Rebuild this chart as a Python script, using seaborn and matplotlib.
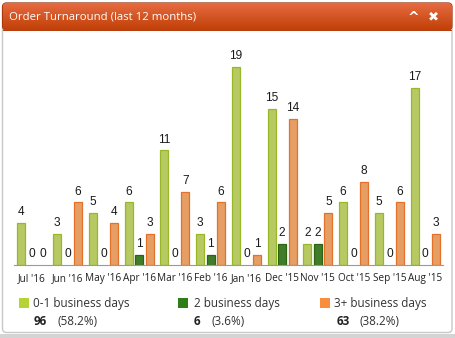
import numpy as np
import pandas as pd
import matplotlib
matplotlib.use("Agg")
import matplotlib.pyplot as plt
from matplotlib.patches import FancyBboxPatch, Rectangle
import seaborn as sns

# ---- data -------------------------------------------------------------
months = ["Jul '16", "Jun '16", "May '16", "Apr '16", "Mar '16", "Feb '16",
          "Jan '16", "Dec '15", "Nov '15", "Oct '15", "Sep '15", "Aug '15"]
series = ["0-1 business days", "2 business days", "3+ business days"]
fast = [4, 3, 5, 6, 11, 3, 19, 15, 2, 6, 5, 17]
two_day = [0, 0, 0, 1, 0, 1, 0, 2, 2, 0, 0, 0]
slow = [0, 6, 4, 3, 7, 6, 1, 14, 5, 8, 6, 3]
title = "Order Turnaround (last 12 months)"

fills = ["#c2da52", "#3b8a1c", "#fc9c4e"]
edges = ["#98b828", "#2a6612", "#e2712a"]
swatches = ["#b5d334", "#2e7d16", "#f98c3d"]

df = pd.DataFrame({
    "month": months * 3,
    "series": sum([[s] * len(months) for s in series], []),
    "count": fast + two_day + slow,
})

sns.set_style("white")
plt.rcParams["font.family"] = ["Open Sans", "DejaVu Sans"]

W, H = 455, 338
fig = plt.figure(figsize=(W / 100, H / 100), dpi=100)

# ---- panel chrome (pixel coordinates) ---------------------------------
bg = fig.add_axes([0, 0, 1, 1])
bg.set_xlim(0, W)
bg.set_ylim(H, 0)
bg.axis("off")

bg.add_patch(Rectangle((0, 334), W, 4, facecolor="#d4d4d4", edgecolor="none"))
panel = FancyBboxPatch((2.5, 3), 449.5, 329.5, boxstyle="round,pad=0,rounding_size=4",
                       facecolor="white", edgecolor="#c8c8c8", linewidth=1)
bg.add_patch(panel)

# title bar with vertical gradient, clipped to a rounded box
bar_box = FancyBboxPatch((2.5, 3), 449.5, 27, boxstyle="round,pad=0,rounding_size=4",
                         facecolor="none", edgecolor="#a8380c", linewidth=0.8)
bg.add_patch(bar_box)
grad = np.linspace(0, 1, 64).reshape(-1, 1)
top_c = np.array([0.90, 0.42, 0.25])
bot_c = np.array([0.76, 0.25, 0.03])
img = top_c + (bot_c - top_c) * grad[..., None]
im = bg.imshow(img, extent=(2.5, 452, 30, 3), aspect="auto", zorder=2,
               interpolation="bilinear")
im.set_clip_path(bar_box)
bg.add_patch(Rectangle((2.5, 30), 449.5, 1, facecolor="#b8400e", edgecolor="none", zorder=3))

bg.text(9, 17, title, color="white", fontsize=8.2, va="center", ha="left", zorder=4)
bg.text(413, 18, "^", color="white", fontsize=10, fontweight="bold",
        va="center", ha="center", zorder=4, family="DejaVu Sans")
bg.text(433, 16.5, "\u2716", color="white", fontsize=9.5,
        va="center", ha="center", zorder=4, family="DejaVu Sans")

# ---- bar chart --------------------------------------------------------
x0, x1 = 14, 443
y_base, y_top = 265, 40
px_per_unit = 198 / 19
ax = fig.add_axes([x0 / W, (H - y_base) / H, (x1 - x0) / W, (y_base - y_top) / H])
sns.barplot(data=df, x="month", y="count", hue="series", order=months,
            hue_order=series, palette=fills, width=0.88, gap=0.25,
            legend=False, ax=ax)

for cont, ec in zip(ax.containers, edges):
    for p in cont:
        p.set_edgecolor(ec)
        p.set_linewidth(0.9)
        if p.get_height() == 0:
            p.set_visible(False)
    ax.bar_label(cont, labels=[f"{int(v)}" for v in cont.datavalues], padding=3.5,
                 fontsize=8.6, color="#1a1a1a", family="Liberation Sans")

ax.set_xlim(-0.5, len(months) - 0.5)
ax.set_ylim(0, (y_base - y_top) / px_per_unit)
ax.set_xlabel("")
ax.set_ylabel("")
ax.set_yticks([])
ax.set_xticks(range(len(months)))
ax.set_xticklabels(months, fontsize=7.2, color="#222222")
ax.tick_params(axis="x", which="major", length=0, pad=6)
ax.set_xticks(np.arange(-0.5, len(months), 1), minor=True)
ax.tick_params(axis="x", which="minor", length=4, width=0.8, color="#9a9a9a")
for side in ["top", "right", "left"]:
    ax.spines[side].set_visible(False)
ax.spines["bottom"].set_color("#9a9a9a")
ax.spines["bottom"].set_linewidth(0.8)
ax.patch.set_alpha(0)

# ---- legend with totals ----------------------------------------------
totals = [sum(fast), sum(two_day), sum(slow)]
grand = sum(totals)
cols = [(19, 33, 34, 58), (178, 194, 194, 211), (320, 334, 337, 360)]
for (sx, tx, nx, px), name, col, tot in zip(cols, series, swatches, totals):
    bg.add_patch(Rectangle((sx, 298), 9.5, 9.5, facecolor=col, edgecolor="none"))
    bg.text(tx, 303, name, fontsize=8.5, color="#333333", va="center", ha="left")
    bg.text(nx, 321.5, f"{tot}", fontsize=8.5, fontweight="bold", color="#222222",
            va="center", ha="left")
    bg.text(px, 321.5, f"({tot / grand * 100:.1f}%)", fontsize=8.5, color="#333333",
            va="center", ha="left")

fig.savefig("out.png", dpi=100)
